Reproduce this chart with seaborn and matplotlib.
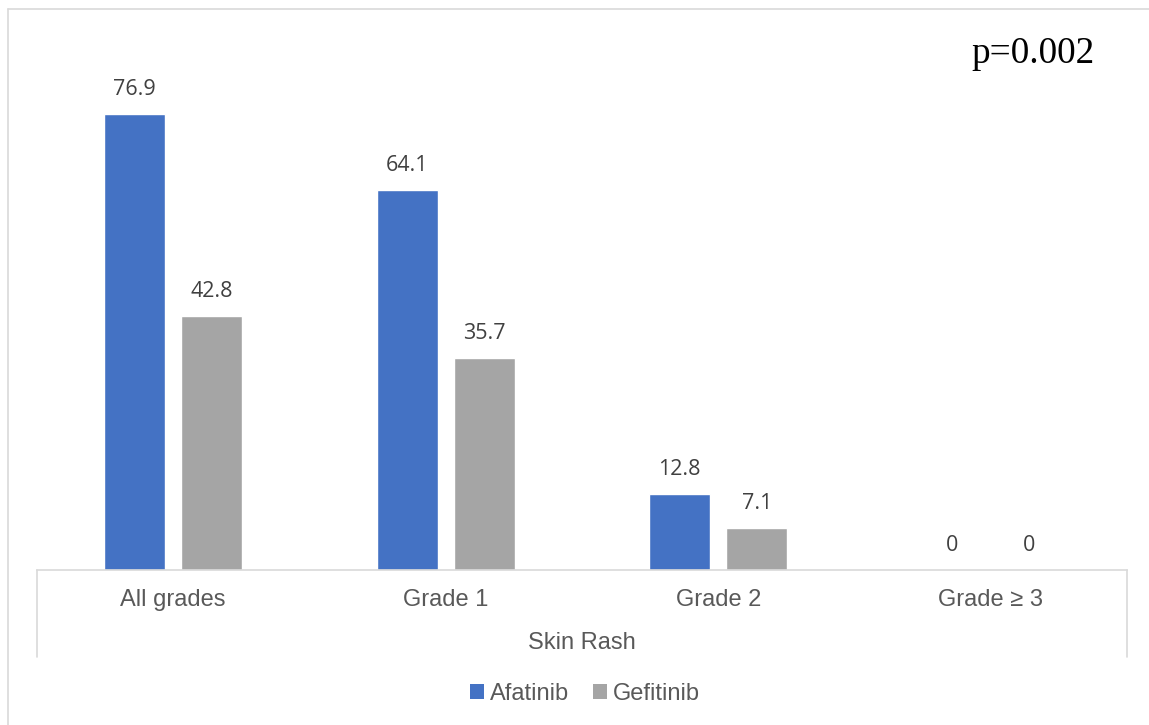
import matplotlib
matplotlib.use("Agg")
import matplotlib.pyplot as plt
from matplotlib.lines import Line2D
from matplotlib.patches import Patch
import pandas as pd
import seaborn as sns

# Skin rash incidence (%) by grade
grades = ["All grades", "Grade 1", "Grade 2", "Grade \u2265 3"]
afatinib = [76.9, 64.1, 12.8, 0]
gefitinib = [42.8, 35.7, 7.1, 0]
drugs = ["Afatinib", "Gefitinib"]
colors = ["#4472C4", "#A5A5A5"]

df = pd.DataFrame({
    "grade": grades * 2,
    "value": afatinib + gefitinib,
    "drug": [drugs[0]] * len(grades) + [drugs[1]] * len(grades),
})

sns.set_style("white")
plt.rcParams["font.family"] = ["Liberation Sans", "DejaVu Sans"]

W, H = 1149, 725
fig = plt.figure(figsize=(W / 100, H / 100), dpi=100)

def fx(px):
    return px / W

def fy(py):
    return 1 - py / H

ax_left, ax_right, ax_bottom, ax_top = 37, 1127, 570, 37.5
ax = fig.add_axes([fx(ax_left), fy(ax_bottom), fx(ax_right - ax_left), (ax_bottom - ax_top) / H])

sns.barplot(data=df, x="grade", y="value", hue="drug", palette=colors,
            width=0.565, gap=0.208, saturation=1, legend=False, ax=ax)

ax.set_ylim(0, 89.8)
ax.set_xlim(-0.5, len(grades) - 0.5)
ax.set_xlabel("")
ax.set_ylabel("")
ax.set_yticks([])
for s in ("left", "top", "right"):
    ax.spines[s].set_visible(False)
ax.spines["bottom"].set_color("#D9D9D9")
ax.spines["bottom"].set_linewidth(1.2)
ax.tick_params(axis="x", length=0, pad=13.5, labelsize=17, labelcolor="#595959")

# value labels above each bar
for cont, vals in zip(ax.containers, [afatinib, gefitinib]):
    ax.bar_label(cont, labels=[f"{v:g}" for v in vals], padding=10,
                 fontsize=15.5, color="#404040", family="Open Sans")

# group bracket of the two-level category axis
axh = ax_bottom - ax_top
for xa in (0, 1):
    ax.add_line(Line2D([xa, xa], [0, -87 / axh], transform=ax.transAxes,
                       color="#D9D9D9", lw=1.2, clip_on=False))

fig.text(fx((ax_left + ax_right) / 2), fy(643), "Skin Rash", ha="center", va="center",
         fontsize=17, color="#595959")

fig.text(fx(1033), fy(63), "p=0.002", ha="center", va="baseline",
         fontsize=26.8, color="black", family="Liberation Serif")

handles = [Patch(facecolor=c, edgecolor="none", label=d) for c, d in zip(colors, drugs)]
leg = fig.legend(handles=handles, loc="center", bbox_to_anchor=(fx(585), fy(694)),
                 ncol=2, frameon=False, fontsize=17, handlelength=0.6, handleheight=0.6,
                 handletextpad=0.25, columnspacing=1.0, borderpad=0)
for t in leg.get_texts():
    t.set_color("#595959")

# chart frame
fig.add_artist(Line2D([fx(7.5), 1], [fy(9), fy(9)], color="#D9D9D9", lw=1.2))
fig.add_artist(Line2D([fx(7.5), fx(7.5)], [fy(9), 0], color="#D9D9D9", lw=1.2))

fig.savefig("out.png", dpi=100)
